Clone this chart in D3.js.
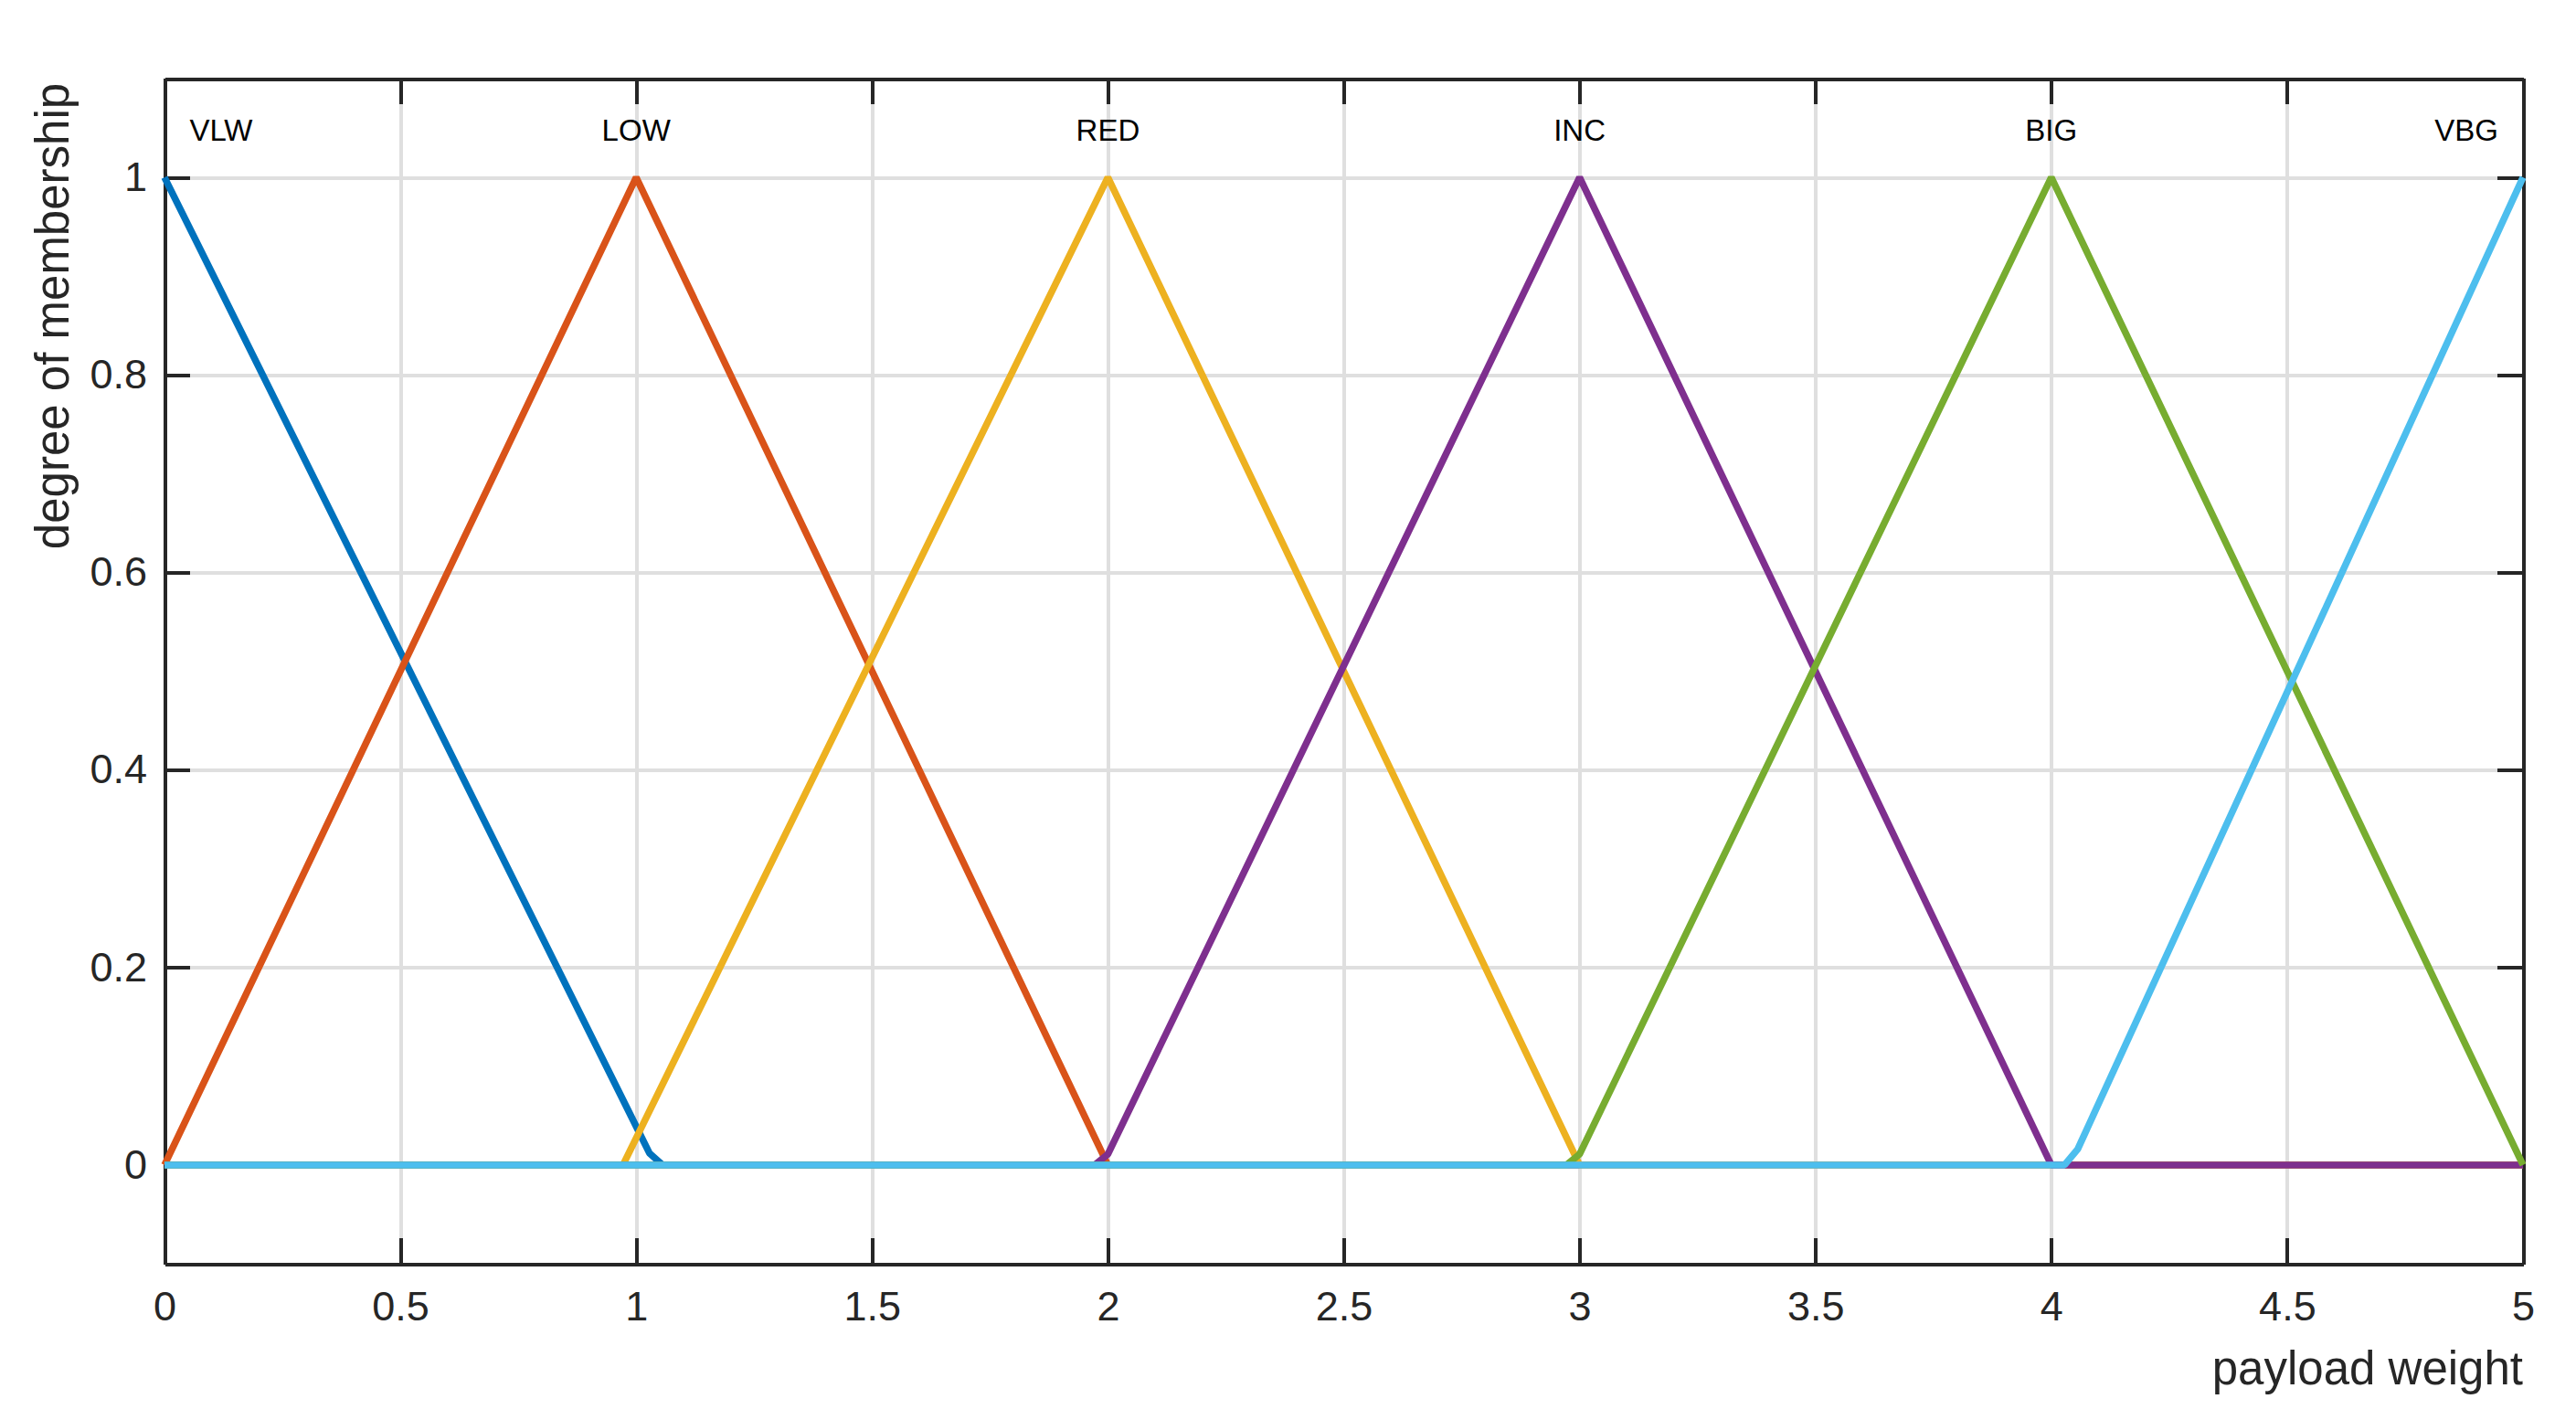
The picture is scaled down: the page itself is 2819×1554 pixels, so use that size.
<!DOCTYPE html>
<meta charset="utf-8">
<script src="https://d3js.org/d3.v7.min.js"></script>
<style>
body { margin: 0; background: #fff; }
svg text { font-family: "Liberation Sans", Arial, Helvetica, sans-serif; }
.axis path, .axis line { stroke: #262626; stroke-width: 4px; shape-rendering: crispEdges; }
.axis text { font-size: 45px; fill: #262626; }
.grid line { stroke: #dfdfdf; stroke-width: 4px; shape-rendering: crispEdges; }
.grid path { display: none; }
.mf { fill: none; stroke-width: 7.5px; stroke-linejoin: bevel; stroke-linecap: butt; }
.mflabel { font-size: 33px; fill: #000; text-anchor: middle; }
.label { font-size: 51px; fill: #262626; }
</style>
<div id="plot"></div>
<script>
// membership functions, vertices
var names = ["VLW", "LOW", "RED", "INC", "BIG", "VBG"];
var colors = ["#0072BD", "#D95319", "#EDB120", "#7E2F8E", "#77AC30", "#4DBEEE"];

var vlwX = [0, 1.0, 1.028, 1.056, 5];
var vlwY = [1, 0.039, 0.012, 0, 0];
var lowX = [0, 1, 2, 5];
var lowY = [0, 1, 0, 0];
var redX = [0, 0.972, 2, 3, 5];
var redY = [0, 0, 1, 0, 0];
var incX = [0, 1.972, 2.0, 3, 4, 5];
var incY = [0, 0, 0.011, 1, 0, 0];
var bigX = [0, 2.972, 3.0, 4, 5];
var bigY = [0, 0, 0.011, 1, 0];
var vbgX = [0, 4.028, 4.056, 5];
var vbgY = [0, 0, 0.016, 1];

// where the names sit along x
var labelX = [0.12, 1, 2, 3, 4, 4.88];

var xTicks = [0, 0.5, 1, 1.5, 2, 2.5, 3, 3.5, 4, 4.5, 5];
var yTicks = [0, 0.2, 0.4, 0.6, 0.8, 1];

var W = 2819, H = 1554;
var mLeft = 180, mRight = 2761, mTop = 86, mBottom = 1383;
var tick = 28;

var x = d3.scaleLinear().domain([0, 5]).range([mLeft, mRight]);
var y = d3.scaleLinear().domain([-0.1, 1.1]).range([mBottom, mTop]);

var svg = d3.select("#plot").append("svg")
    .attr("width", W)
    .attr("height", H);

// grid
svg.append("g")
    .attr("class", "grid")
    .attr("transform", "translate(0," + mBottom + ")")
    .call(d3.axisBottom(x).tickValues(xTicks).tickSize(-(mBottom - mTop)).tickFormat(""));
svg.append("g")
    .attr("class", "grid")
    .attr("transform", "translate(" + mLeft + ",0)")
    .call(d3.axisLeft(y).tickValues(yTicks).tickSize(-(mRight - mLeft)).tickFormat(""));

// axes box with inward ticks
svg.append("g")
    .attr("class", "axis")
    .attr("transform", "translate(0," + mBottom + ")")
    .call(d3.axisBottom(x).tickValues(xTicks).tickSizeInner(-tick).tickSizeOuter(0)
        .tickPadding(30).tickFormat(d3.format("~g")));
svg.append("g")
    .attr("class", "axis")
    .attr("transform", "translate(0," + mTop + ")")
    .call(d3.axisTop(x).tickValues(xTicks).tickSizeInner(-tick).tickSizeOuter(0).tickFormat(""));
svg.append("g")
    .attr("class", "axis")
    .attr("transform", "translate(" + mLeft + ",0)")
    .call(d3.axisLeft(y).tickValues(yTicks).tickSizeInner(-tick).tickSizeOuter(0)
        .tickPadding(19).tickFormat(d3.format("~g")));
svg.append("g")
    .attr("class", "axis")
    .attr("transform", "translate(" + mRight + ",0)")
    .call(d3.axisRight(y).tickValues(yTicks).tickSizeInner(-tick).tickSizeOuter(0).tickFormat(""));

d3.selectAll(".axis").attr("font-size", null).attr("font-family", null);

// membership function lines
var series = [[vlwX, vlwY], [lowX, lowY], [redX, redY], [incX, incY], [bigX, bigY], [vbgX, vbgY]];
var line = d3.line()
    .x(function(d) { return x(d[0]); })
    .y(function(d) { return y(d[1]); });

series.forEach(function(s, i) {
    svg.append("path")
        .attr("class", "mf")
        .attr("stroke", colors[i])
        .datum(d3.zip(s[0], s[1]))
        .attr("d", line);
});

// names
svg.selectAll(".mflabel")
    .data(names)
    .enter().append("text")
    .attr("class", "mflabel")
    .attr("x", function(d, i) { return x(labelX[i]); })
    .attr("y", y(1.037))
    .text(function(d) { return d; });

// axis labels
svg.append("text")
    .attr("class", "label")
    .attr("x", mRight)
    .attr("y", 1515)
    .style("text-anchor", "end")
    .text("payload weight");

svg.append("text")
    .attr("class", "label")
    .attr("transform", "translate(75,346) rotate(-90)")
    .style("text-anchor", "middle")
    .text("degree of membership");
</script>
